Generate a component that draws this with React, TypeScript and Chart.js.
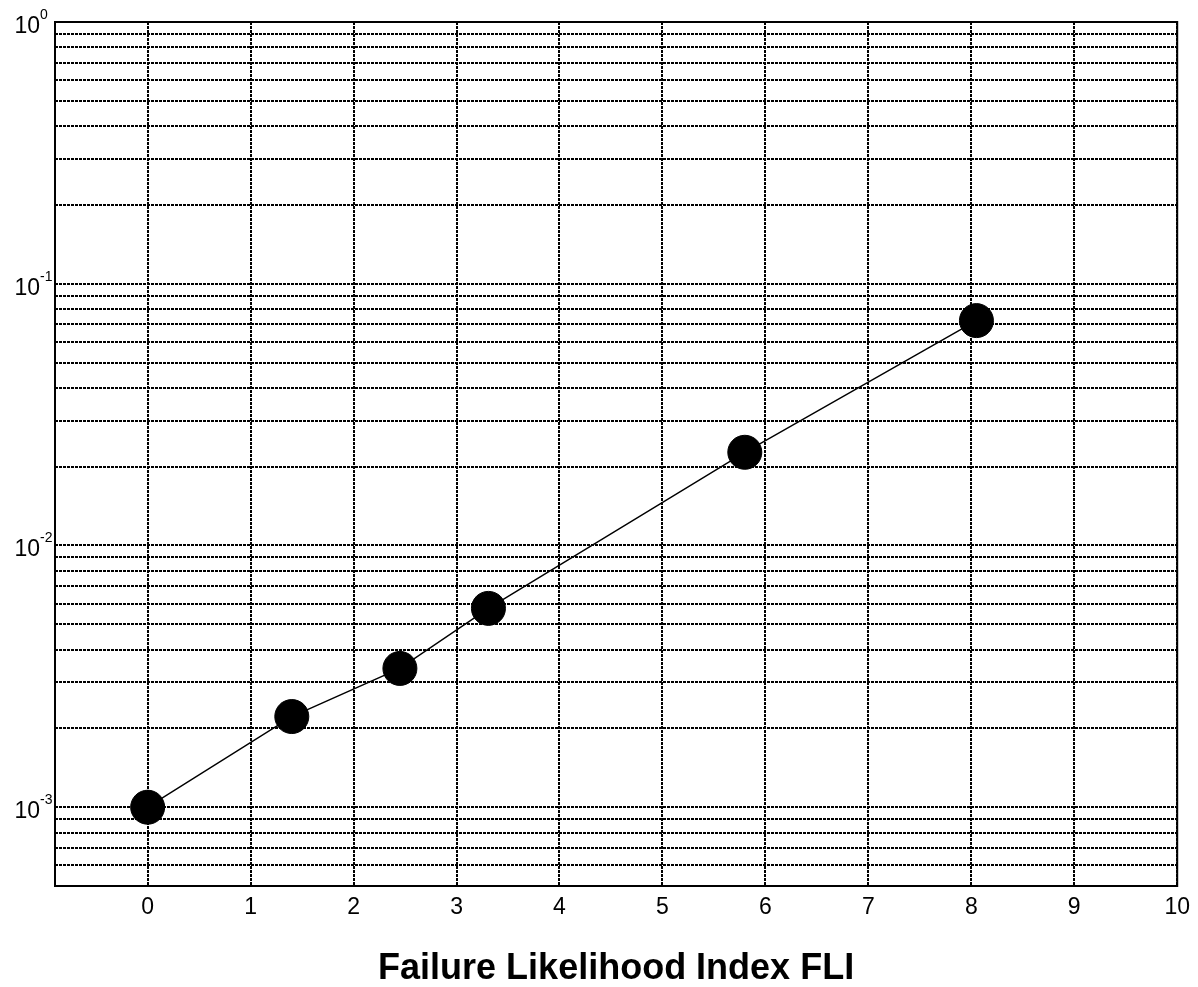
import React, { useEffect, useRef } from "react";
import { Chart, registerables } from "chart.js";

Chart.register(...registerables);

const fliValues = [0, 1.4, 2.45, 3.31, 5.8, 8.05];
const probValues = [0.001, 0.00222, 0.00339, 0.00575, 0.0227, 0.0723];
const xTickValues = [0, 1, 2, 3, 4, 5, 6, 7, 8, 9, 10];
const decadeExponents = [-3, -2, -1, 0];
const xTitle = "Failure Likelihood Index FLI";

const X_MIN = -0.9;
const X_MAX = 10;
const Y_MIN = 5e-4;
const Y_MAX = 1;

function buildLogTicks(): number[] {
  const out: number[] = [];
  for (let m = 5; m <= 9; m++) out.push(+(m * 1e-4).toPrecision(3));
  for (const e of [-3, -2, -1]) {
    for (let m = 1; m <= 9; m++) out.push(+(m * Math.pow(10, e)).toPrecision(3));
  }
  out.push(1);
  return out;
}
const yTickValues = buildLogTicks();

const FONT = '"Liberation Sans", Arial, Helvetica, sans-serif';

const framePlugin = {
  id: "frameAndLabels",
  afterDraw(chart: any) {
    const { ctx, chartArea } = chart;
    const y = chart.scales.y;
    ctx.save();
    ctx.strokeStyle = "#000";
    ctx.lineWidth = 2;
    ctx.setLineDash([]);
    ctx.strokeRect(chartArea.left, chartArea.top, chartArea.right - chartArea.left, chartArea.bottom - chartArea.top);
    ctx.fillStyle = "#000";
    for (const e of decadeExponents) {
      const py = y.getPixelForValue(Math.pow(10, e));
      ctx.font = `23px ${FONT}`;
      ctx.textAlign = "right";
      ctx.textBaseline = "alphabetic";
      ctx.fillText("10", 40, py + 11);
      ctx.font = `14px ${FONT}`;
      ctx.textAlign = "left";
      ctx.fillText(String(e), 40, py - 3);
    }
    ctx.restore();
  },
};

export default function App() {
  const ref = useRef<HTMLCanvasElement>(null);
  useEffect(() => {
    if (!ref.current) return;
    const chart = new Chart(ref.current, {
      type: "line",
      data: {
        datasets: [
          {
            data: fliValues.map((x, i) => ({ x, y: probValues[i] })),
            borderColor: "#000",
            borderWidth: 1.4,
            pointRadius: 17,
            pointBorderWidth: 1,
            pointBorderColor: "#000",
            pointBackgroundColor: "#000",
            tension: 0,
          },
        ],
      },
      options: {
        animation: false,
        responsive: true,
        maintainAspectRatio: false,
        layout: { padding: { left: 0, top: 22, right: 18, bottom: 0 } },
        plugins: { legend: { display: false }, tooltip: { enabled: false } },
        scales: {
          x: {
            type: "linear",
            min: X_MIN,
            max: X_MAX,
            afterBuildTicks: (s: any) => {
              s.ticks = xTickValues.map((v) => ({ value: v }));
            },
            afterFit: (s: any) => {
              s.height = 101;
            },
            ticks: {
              color: "#000",
              font: { family: FONT, size: 23 },
              padding: 8,
              maxRotation: 0,
              autoSkip: false,
              callback: (v: any) => String(v),
            },
            grid: { color: "#000", lineWidth: 2, drawTicks: false },
            border: { display: false, dash: [3, 1] },
            title: {
              display: true,
              text: xTitle,
              color: "#000",
              font: { family: FONT, size: 36, weight: "bold", lineHeight: 1 },
              padding: { top: 0, bottom: 0 },
            },
          },
          y: {
            type: "logarithmic",
            min: Y_MIN,
            max: Y_MAX,
            afterBuildTicks: (s: any) => {
              s.ticks = yTickValues.map((v) => ({ value: v }));
            },
            afterFit: (s: any) => {
              s.width = 55;
            },
            ticks: { display: false },
            grid: { color: "#000", lineWidth: 2, drawTicks: false },
            border: { display: false, dash: [3, 1] },
          },
        },
      },
      plugins: [framePlugin],
    });
    return () => chart.destroy();
  }, []);
  return (
    <div style={{ position: "absolute", left: 0, top: 0, width: 1198, height: 987, background: "#fff" }}>
      <canvas ref={ref} />
    </div>
  );
}
